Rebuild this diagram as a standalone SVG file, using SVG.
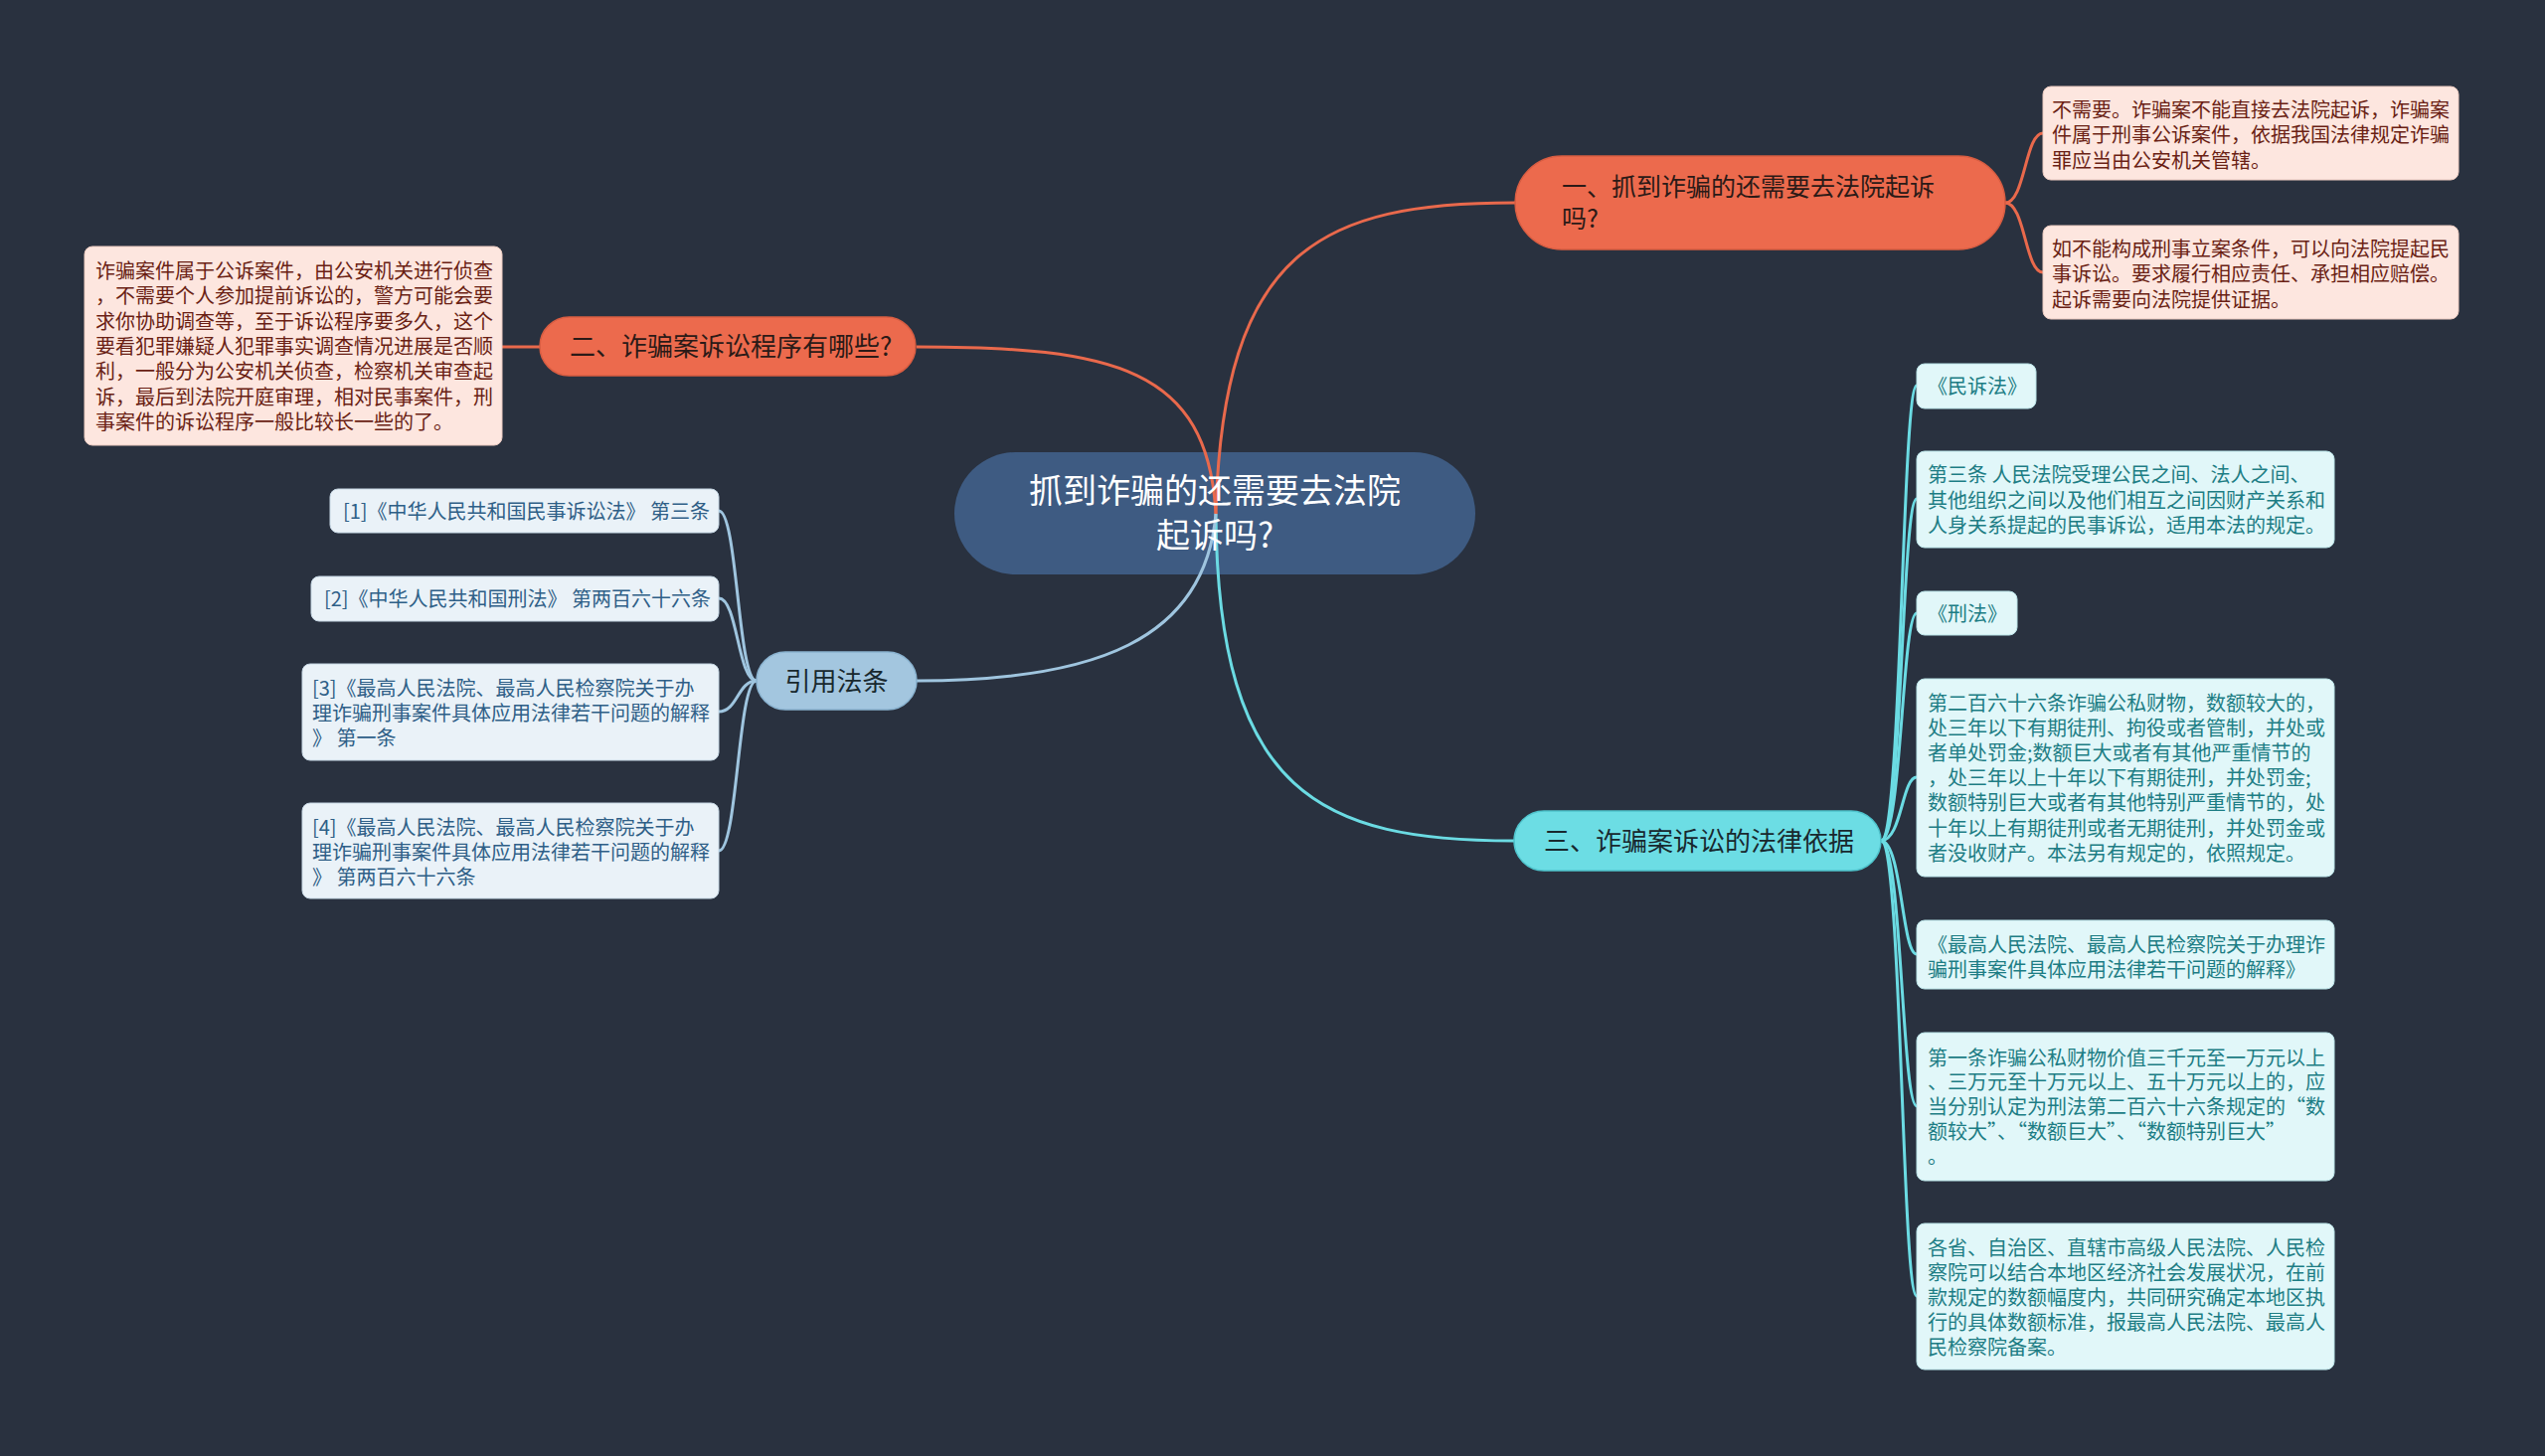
<svg xmlns="http://www.w3.org/2000/svg" width="2560" height="1465" viewBox="0 0 2560 1465">
<style>
text{font-family:"Noto Sans CJK SC","Noto Sans",sans-serif}
.bg{fill:#29313f}
.lo{fill:none;stroke:#e9694c;stroke-width:3}
.lc{fill:none;stroke:#6bdbe3;stroke-width:3}
.lb{fill:none;stroke:#9fc5df;stroke-width:3}
.center{fill:#3e5b82}
.ct{fill:#ffffff;font-size:34px;text-anchor:middle}
.bo{fill:#ec6a4d;stroke:#d85d42;stroke-width:1.5}
.bc{fill:#6cdde4;stroke:#4fc3cc;stroke-width:1.5}
.bb{fill:#a3c6df;stroke:#8ab3d0;stroke-width:1.5}
.bt{fill:#2b1a17;font-size:26px}
.bt1{fill:#2b1a17;font-size:25px}
.bt3{fill:#18282e;font-size:26px}
.lfo{fill:#fde6df;stroke:#e9c9bf;stroke-width:1}
.lfc{fill:#e1f7f9;stroke:#b9e3e7;stroke-width:1}
.lfb{fill:#eaf2f8;stroke:#c6d7e4;stroke-width:1}
.to{fill:#6a1f14;font-size:20px}
.tc{fill:#1d7d84;font-size:20px}
.tb{fill:#2f5f87;font-size:20px}
</style>
<rect class="bg" x="0" y="0" width="2560" height="1465"/>

<g id="center">
<rect class="center" x="960" y="455" width="524" height="123" rx="61.5"/>
</g>

<g id="connectors">
<path class="lo" d="M1223,517 C1230,250 1330,204 1524,204"/>
<path class="lo" d="M1223,517 C1215,370 1120,349 922,349"/>
<path class="lc" d="M1223,517 C1225,800 1330,846 1523,846"/>
<path class="lb" d="M1223,517 C1212,645 1100,685 922,685"/>
<path class="lo" d="M2017,204 C2037,204 2037,134 2055,134"/>
<path class="lo" d="M2017,204 C2037,204 2037,274 2055,274"/>
<path class="lo" d="M543,349 L505,349"/>
<path class="lb" d="M761,685 C742,685 742,514 723,514"/>
<path class="lb" d="M761,685 C742,685 742,602 723,602"/>
<path class="lb" d="M761,685 C742,685 742,716 723,716"/>
<path class="lb" d="M761,685 C742,685 742,856 723,856"/>
<path class="lc" d="M1892,846 C1913,846 1913,388 1928,388"/>
<path class="lc" d="M1892,846 C1913,846 1913,502 1928,502"/>
<path class="lc" d="M1892,846 C1913,846 1913,617 1928,617"/>
<path class="lc" d="M1892,846 C1913,846 1913,782 1928,782"/>
<path class="lc" d="M1892,846 C1913,846 1913,960 1928,960"/>
<path class="lc" d="M1892,846 C1913,846 1913,1113 1928,1113"/>
<path class="lc" d="M1892,846 C1913,846 1913,1304 1928,1304"/>
</g>

<g id="center-text">
<text class="ct" x="1222" y="506">抓到诈骗的还需要去法院</text>
<text class="ct" x="1222" y="551">起诉吗?</text>
</g>

<g id="branch1">
<rect class="bo" x="1524" y="157" width="493" height="94" rx="47"/>
<text class="bt1" x="1571" y="197">一、抓到诈骗的还需要去法院起诉</text>
<text class="bt1" x="1571" y="229">吗?</text>
</g>
<g id="leaf1a">
<rect class="lfo" x="2055" y="87" width="418" height="94" rx="8"/>
<text class="to" x="2064" y="117.6">不需要。诈骗案不能直接去法院起诉，诈骗案</text>
<text class="to" x="2064" y="143">件属于刑事公诉案件，依据我国法律规定诈骗</text>
<text class="to" x="2064" y="168.6">罪应当由公安机关管辖。</text>
</g>
<g id="leaf1b">
<rect class="lfo" x="2055" y="227" width="418" height="94" rx="8"/>
<text class="to" x="2064" y="257.6">如不能构成刑事立案条件，可以向法院提起民</text>
<text class="to" x="2064" y="283">事诉讼。要求履行相应责任、承担相应赔偿。</text>
<text class="to" x="2064" y="308.6">起诉需要向法院提供证据。</text>
</g>

<g id="branch2">
<rect class="bo" x="543" y="319" width="378" height="59" rx="29.5"/>
<text class="bt" x="573" y="358">二、诈骗案诉讼程序有哪些?</text>
</g>
<g id="leaf2">
<rect class="lfo" x="85" y="248" width="420" height="200" rx="8"/>
<text class="to" x="96" y="280">诈骗案件属于公诉案件，由公安机关进行侦查</text>
<text class="to" x="96" y="305.4">，不需要个人参加提前诉讼的，警方可能会要</text>
<text class="to" x="96" y="330.7">求你协助调查等，至于诉讼程序要多久，这个</text>
<text class="to" x="96" y="356">要看犯罪嫌疑人犯罪事实调查情况进展是否顺</text>
<text class="to" x="96" y="381.3">利，一般分为公安机关侦查，检察机关审查起</text>
<text class="to" x="96" y="406.6">诉，最后到法院开庭审理，相对民事案件，刑</text>
<text class="to" x="96" y="431.9">事案件的诉讼程序一般比较长一些的了。</text>
</g>

<g id="branch4">
<rect class="bb" x="761" y="656" width="161" height="58" rx="29"/>
<text class="bt3" x="841.5" y="695" text-anchor="middle">引用法条</text>
</g>
<g id="ref1">
<rect class="lfb" x="332" y="492" width="391" height="44" rx="8"/>
<text class="tb" x="345" y="521.6">[1]《中华人民共和国民事诉讼法》 第三条</text>
</g>
<g id="ref2">
<rect class="lfb" x="313" y="580" width="410" height="45" rx="8"/>
<text class="tb" x="326" y="610">[2]《中华人民共和国刑法》 第两百六十六条</text>
</g>
<g id="ref3">
<rect class="lfb" x="304" y="668" width="419" height="97" rx="8"/>
<text class="tb" x="314" y="699.6">[3]《最高人民法院、最高人民检察院关于办</text>
<text class="tb" x="314" y="724.6">理诈骗刑事案件具体应用法律若干问题的解释</text>
<text class="tb" x="314" y="749.6">》 第一条</text>
</g>
<g id="ref4">
<rect class="lfb" x="304" y="808" width="419" height="96" rx="8"/>
<text class="tb" x="314" y="839.6">[4]《最高人民法院、最高人民检察院关于办</text>
<text class="tb" x="314" y="864.6">理诈骗刑事案件具体应用法律若干问题的解释</text>
<text class="tb" x="314" y="889.6">》 第两百六十六条</text>
</g>

<g id="branch3">
<rect class="bc" x="1523" y="816" width="369" height="60" rx="30"/>
<text class="bt3" x="1553" y="856">三、诈骗案诉讼的法律依据</text>
</g>
<g id="law1">
<rect class="lfc" x="1928" y="366" width="120" height="45" rx="8"/>
<text class="tc" x="1939" y="395.6">《民诉法》</text>
</g>
<g id="law2">
<rect class="lfc" x="1928" y="454" width="420" height="97" rx="8"/>
<text class="tc" x="1939" y="484.6">第三条 人民法院受理公民之间、法人之间、</text>
<text class="tc" x="1939" y="510.6">其他组织之间以及他们相互之间因财产关系和</text>
<text class="tc" x="1939" y="535.6">人身关系提起的民事诉讼，适用本法的规定。</text>
</g>
<g id="law3">
<rect class="lfc" x="1928" y="595" width="101" height="44" rx="8"/>
<text class="tc" x="1939" y="624.6">《刑法》</text>
</g>
<g id="law4">
<rect class="lfc" x="1928" y="683" width="420" height="199" rx="8"/>
<text class="tc" x="1939" y="714.6">第二百六十六条诈骗公私财物，数额较大的，</text>
<text class="tc" x="1939" y="739.8">处三年以下有期徒刑、拘役或者管制，并处或</text>
<text class="tc" x="1939" y="765">者单处罚金;数额巨大或者有其他严重情节的</text>
<text class="tc" x="1939" y="790.2">，处三年以上十年以下有期徒刑，并处罚金;</text>
<text class="tc" x="1939" y="815.4">数额特别巨大或者有其他特别严重情节的，处</text>
<text class="tc" x="1939" y="840.6">十年以上有期徒刑或者无期徒刑，并处罚金或</text>
<text class="tc" x="1939" y="865.8">者没收财产。本法另有规定的，依照规定。</text>
</g>
<g id="law5">
<rect class="lfc" x="1928" y="926" width="420" height="69" rx="8"/>
<text class="tc" x="1939" y="957.6">《最高人民法院、最高人民检察院关于办理诈</text>
<text class="tc" x="1939" y="982.6">骗刑事案件具体应用法律若干问题的解释》</text>
</g>
<g id="law6">
<rect class="lfc" x="1928" y="1039" width="420" height="149" rx="8"/>
<text class="tc" x="1939" y="1071.6">第一条诈骗公私财物价值三千元至一万元以上</text>
<text class="tc" x="1939" y="1096.4">、三万元至十万元以上、五十万元以上的，应</text>
<text class="tc" x="1939" y="1121.2">当分别认定为刑法第二百六十六条规定的“数</text>
<text class="tc" x="1939" y="1146">额较大”、“数额巨大”、“数额特别巨大”</text>
<text class="tc" x="1939" y="1170.8">。</text>
</g>
<g id="law7">
<rect class="lfc" x="1928" y="1231" width="420" height="147" rx="8"/>
<text class="tc" x="1939" y="1262.6">各省、自治区、直辖市高级人民法院、人民检</text>
<text class="tc" x="1939" y="1287.6">察院可以结合本地区经济社会发展状况，在前</text>
<text class="tc" x="1939" y="1312.6">款规定的数额幅度内，共同研究确定本地区执</text>
<text class="tc" x="1939" y="1337.6">行的具体数额标准，报最高人民法院、最高人</text>
<text class="tc" x="1939" y="1362.6">民检察院备案。</text>
</g>
</svg>
